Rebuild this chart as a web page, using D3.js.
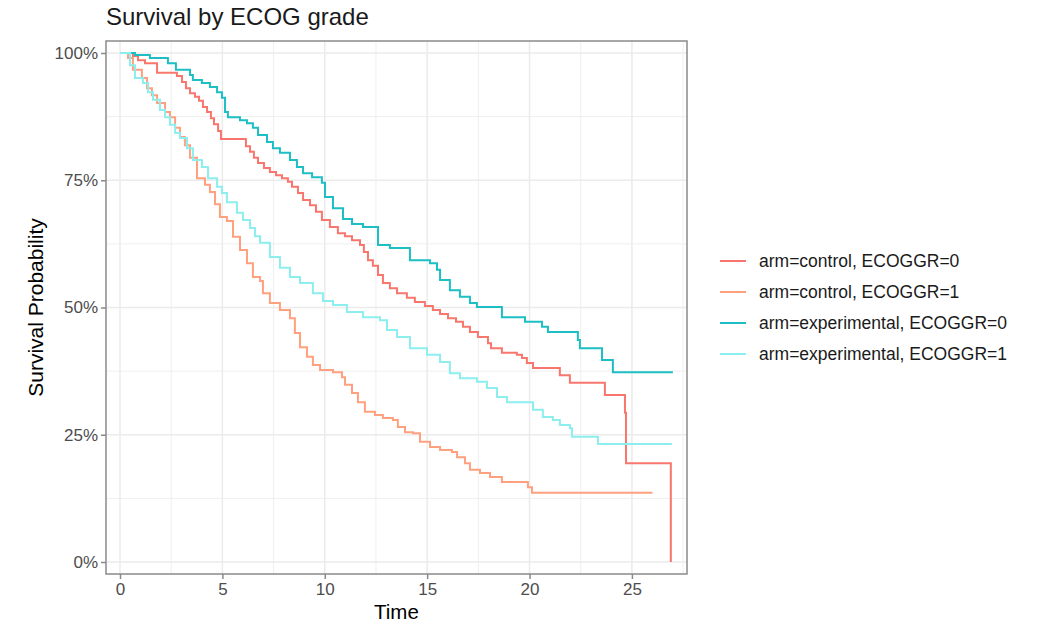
<!DOCTYPE html>
<html>
<head>
<meta charset="utf-8">
<style>
    body { margin: 0; background: #fff; }
    svg { font-family: 'Liberation Sans', Arial, sans-serif; }
    .grid line { stroke: #ebebeb; }
    .tick-label { fill: #4d4d4d; font-size: 17px; }
</style>
</head>
<body>
<svg width="1038" height="625"></svg>
<script src="https://d3js.org/d3.v7.min.js"></script>
<script>
// time (x) and survival in % (y) after each drop
let ctrl0Time = [0, 0.63, 0.88, 1.22, 1.81, 2.78, 3.03, 3.22, 3.42, 3.66, 3.86, 4.05, 4.25, 4.44, 4.59, 4.79, 4.93,
    6.15, 6.35, 6.54, 6.74, 7.03, 7.32, 7.62, 7.91, 8.20, 8.40, 8.69, 8.94, 9.28, 9.57, 9.86, 10.25, 10.64, 10.99,
    11.33, 11.72, 11.91, 12.11, 12.35, 12.60, 12.84, 13.18, 13.53, 14.01, 14.40, 14.89, 15.28, 15.63, 16.02, 16.41,
    16.75, 17.09, 17.48, 17.97, 18.12, 18.65, 19.38, 19.63, 19.87, 20.17, 21.48, 21.97, 23.68, 24.66, 24.71, 26.9];
let ctrl0Surv = [100, 99.4, 98.6, 98.0, 96.1, 95.5, 94.3, 93.1, 92.1, 91.4, 90.6, 89.4, 88.4, 87.2, 86.0, 84.7, 83.1,
    81.7, 80.6, 79.4, 78.4, 77.4, 76.6, 76.0, 75.4, 74.7, 73.7, 72.5, 71.1, 70.1, 68.8, 67.2, 65.8, 64.6, 64.0,
    63.2, 62.3, 60.9, 59.3, 58.2, 56.4, 54.8, 53.8, 52.8, 51.9, 51.1, 50.3, 49.5, 48.7, 47.9, 47.2,
    46.2, 45.2, 44.2, 43.0, 42.0, 41.1, 40.7, 40.1, 39.1, 38.1, 36.7, 35.2, 32.8, 29.3, 19.4, 0];

let ctrl1Time = [0, 0.39, 0.63, 1.07, 1.32, 1.56, 1.81, 2.20, 2.44, 2.69, 2.93, 3.17, 3.42, 3.76, 4.15, 4.39, 4.64,
    4.88, 5.22, 5.52, 5.86, 6.20, 6.49, 6.84, 6.98, 7.32, 7.81, 8.30, 8.54, 8.79, 9.13, 9.42, 9.77, 10.40, 10.84,
    10.99, 11.33, 11.62, 11.96, 12.45, 12.84, 13.33, 13.57, 13.92, 14.31, 14.65, 15.14, 15.63, 16.21, 16.46, 16.85,
    17.09, 17.58, 18.07, 18.65, 19.92, 20.12, 26.0];
let ctrl1Surv = [100, 99.0, 96.7, 95.1, 93.1, 91.7, 90.2, 88.4, 87.4, 85.3, 83.5, 81.9, 79.4, 75.4, 74.1, 72.7, 70.3,
    67.8, 67.0, 63.9, 61.3, 58.7, 56.0, 55.2, 52.8, 50.9, 49.5, 47.9, 45.0, 42.2, 40.3, 38.7, 37.7, 37.3, 36.3,
    34.8, 33.2, 31.4, 29.5, 28.9, 28.3, 27.9, 26.5, 25.5, 25.3, 23.6, 22.6, 22.0, 21.6, 20.6, 19.4,
    18.1, 17.5, 16.7, 15.7, 14.7, 13.6, 13.6];

let exp0Time = [0, 0.73, 1.46, 2.34, 2.73, 3.42, 3.56, 4.00, 4.39, 4.74, 4.98, 5.13, 5.27, 5.86, 6.20, 6.49, 6.74,
    7.18, 7.47, 7.81, 8.30, 8.64, 8.94, 9.38, 9.86, 10.01, 10.40, 10.89, 11.33, 11.87, 12.60, 13.18, 14.16, 15.14,
    15.48, 15.63, 16.11, 16.60, 17.09, 17.43, 18.65, 19.78, 20.61, 20.90, 22.36, 22.46, 23.54, 24.07, 27.0];
let exp0Surv = [100, 99.6, 99.0, 98.0, 96.7, 95.7, 94.7, 94.1, 93.3, 92.3, 91.2, 88.4, 87.4, 86.8, 86.2, 85.3, 83.9,
    82.5, 81.3, 80.4, 79.0, 77.6, 76.4, 75.6, 74.5, 71.7, 69.5, 67.4, 66.4, 65.8, 62.3, 61.7, 59.3, 58.7,
    57.4, 55.4, 53.4, 52.1, 50.9, 50.1, 48.1, 47.2, 46.2, 45.2, 43.6, 42.0, 39.7, 37.3, 37.3];

let exp1Time = [0, 0.49, 0.73, 1.12, 1.37, 1.61, 1.95, 2.20, 2.44, 2.69, 2.93, 3.27, 3.56, 4.00, 4.30, 4.74, 4.98,
    5.22, 5.71, 6.01, 6.35, 6.59, 6.84, 7.32, 7.81, 8.30, 8.79, 9.42, 9.91, 10.40, 11.08, 11.87, 12.70, 13.04,
    13.53, 14.16, 14.99, 15.63, 16.11, 16.60, 17.43, 17.92, 18.41, 18.90, 20.17, 20.65, 21.14, 21.48, 21.97,
    22.07, 23.34, 26.95];
let exp1Surv = [100, 97.6, 95.1, 94.1, 92.3, 90.8, 88.8, 87.4, 85.9, 84.3, 83.3, 81.3, 79.0, 77.6, 75.4, 73.7, 72.5,
    70.7, 68.6, 67.2, 65.6, 64.0, 62.7, 59.9, 57.8, 56.0, 54.8, 52.8, 51.3, 50.5, 49.1, 48.1, 47.5, 45.6,
    44.2, 42.0, 40.7, 39.3, 37.1, 36.1, 35.4, 34.2, 32.4, 31.4, 29.9, 28.5, 27.9, 26.9, 26.3,
    24.6, 23.2, 23.2];

let groupNames = ["arm=control, ECOGGR=0", "arm=control, ECOGGR=1",
    "arm=experimental, ECOGGR=0", "arm=experimental, ECOGGR=1"];
let groupColors = ["#f8766d", "#ffa07f", "#1dbfc4", "#8ceeee"];
let xTicks = [0, 5, 10, 15, 20, 25];
let yTicks = [0, 0.25, 0.5, 0.75, 1];

let series = [
    d3.zip(ctrl0Time, ctrl0Surv),
    d3.zip(ctrl1Time, ctrl1Surv),
    d3.zip(exp0Time, exp0Surv),
    d3.zip(exp1Time, exp1Surv)
];

let svg = d3.select("svg");
let panel = {left: 106, right: 687, top: 41, bottom: 574};

let x = d3.scaleLinear().domain([-0.684, 27.69]).range([panel.left, panel.right]);
let y = d3.scaleLinear().domain([-0.0236, 1.0236]).range([panel.bottom, panel.top]);

// grid: minor then major
let xMinor = d3.range(2.5, 27.6, 5);
let yMinor = [0.125, 0.375, 0.625, 0.875];
let grid = svg.append("g").attr("class", "grid");
grid.selectAll(".vmin").data(xMinor).join("line")
    .attr("x1", d => x(d)).attr("x2", d => x(d))
    .attr("y1", panel.top).attr("y2", panel.bottom)
    .attr("stroke-width", 0.8);
grid.selectAll(".hmin").data(yMinor).join("line")
    .attr("y1", d => y(d)).attr("y2", d => y(d))
    .attr("x1", panel.left).attr("x2", panel.right)
    .attr("stroke-width", 0.8);
grid.selectAll(".vmaj").data(xTicks).join("line")
    .attr("x1", d => x(d)).attr("x2", d => x(d))
    .attr("y1", panel.top).attr("y2", panel.bottom)
    .attr("stroke-width", 1.5);
grid.selectAll(".hmaj").data(yTicks).join("line")
    .attr("y1", d => y(d)).attr("y2", d => y(d))
    .attr("x1", panel.left).attr("x2", panel.right)
    .attr("stroke-width", 1.5);

// curves
let line = d3.line()
    .x(d => x(d[0]))
    .y(d => y(d[1] / 100))
    .curve(d3.curveStepAfter);

svg.append("g")
    .selectAll("path")
    .data(series)
    .join("path")
    .attr("d", line)
    .attr("fill", "none")
    .attr("stroke", (d, i) => groupColors[i])
    .attr("stroke-width", 2);

// panel border
svg.append("rect")
    .attr("x", panel.left).attr("y", panel.top)
    .attr("width", panel.right - panel.left).attr("height", panel.bottom - panel.top)
    .attr("fill", "none").attr("stroke", "#8a8a8a").attr("stroke-width", 1.5);

// axes
let xAxis = d3.axisBottom(x).tickValues(xTicks).tickSize(5).tickPadding(4);
let yAxis = d3.axisLeft(y).tickValues(yTicks).tickSize(5).tickPadding(3)
    .tickFormat(d3.format(".0%"));

let gx = svg.append("g").attr("transform", `translate(0,${panel.bottom})`).call(xAxis);
let gy = svg.append("g").attr("transform", `translate(${panel.left},0)`).call(yAxis);
[gx, gy].forEach(g => {
    g.select(".domain").remove();
    g.selectAll(".tick line").attr("stroke", "#8a8a8a").attr("stroke-width", 1.5);
    g.selectAll(".tick text").attr("class", "tick-label")
        .style("font-family", "'Liberation Sans', Arial, sans-serif");
});

// titles
svg.append("text")
    .attr("x", panel.left).attr("y", 25)
    .attr("font-size", 24).attr("fill", "#1a1a1a")
    .text("Survival by ECOG grade");

svg.append("text")
    .attr("x", (x(0) + x(27)) / 2).attr("y", 619)
    .attr("text-anchor", "middle")
    .attr("font-size", 20.5).attr("fill", "#000")
    .text("Time");

svg.append("text")
    .attr("transform", `translate(43,${(panel.top + panel.bottom) / 2}) rotate(-90)`)
    .attr("text-anchor", "middle")
    .attr("font-size", 21).attr("fill", "#000")
    .text("Survival Probability");

// legend
let legend = svg.append("g").attr("transform", "translate(720,261)");
let rows = legend.selectAll("g").data(groupNames).join("g")
    .attr("transform", (d, i) => `translate(0,${i * 31})`);
rows.append("line")
    .attr("x1", 0).attr("x2", 26)
    .attr("stroke", (d, i) => groupColors[i])
    .attr("stroke-width", 2);
rows.append("text")
    .attr("x", 39).attr("y", 6)
    .attr("font-size", 17.5).attr("fill", "#1a1a1a")
    .text(d => d);
</script>
</body>
</html>
